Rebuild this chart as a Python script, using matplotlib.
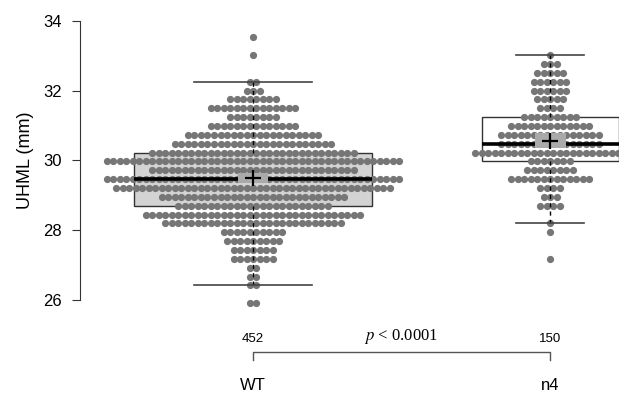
import numpy as np
import matplotlib.pyplot as plt
from matplotlib.patches import Rectangle
from matplotlib import transforms

plt.rcParams['font.family'] = ['Liberation Sans', 'DejaVu Sans']
plt.rcParams['mathtext.fontset'] = 'stix'

# UHML was read in 1/100 inch, plotted in mm -> every level is one row of the swarm
groups = ["WT", "n4"]
wt_levels = [1.02, 1.04, 1.05, 1.06, 1.07, 1.08, 1.09, 1.10, 1.11, 1.12, 1.13, 1.14, 1.15,
             1.16, 1.17, 1.18, 1.19, 1.20, 1.21, 1.22, 1.23, 1.24, 1.25, 1.26, 1.27, 1.30, 1.32]
wt_counts = [2, 2, 2, 2, 7, 7, 9, 10, 28, 34, 24, 29, 43,
             46, 32, 46, 32, 25, 21, 14, 8, 14, 8, 3, 2, 1, 1]
n4_levels = [1.07, 1.10, 1.11, 1.13, 1.14, 1.15, 1.16, 1.17, 1.18, 1.19, 1.20,
             1.21, 1.22, 1.23, 1.24, 1.25, 1.26, 1.27, 1.28, 1.29, 1.30]
n4_counts = [1, 1, 1, 4, 3, 4, 13, 8, 7, 24, 16,
             16, 13, 9, 4, 5, 6, 6, 5, 3, 1]
p_label = "$p$ < 0.0001"

levels = [wt_levels, n4_levels]
counts = [wt_counts, n4_counts]
data = [np.repeat(np.round(np.array(l) * 25.4, 3), c) for l, c in zip(levels, counts)]
sizes = [len(d) for d in data]
positions = [1, 2]

fig = plt.figure(figsize=(6.19, 3.94), dpi=100)
ax = fig.add_axes([80 / 619, 0.2032, 1 - 80 / 619, 0.7613])

# box widths ~ sqrt(n), like R varwidth
widths = [0.8 * np.sqrt(n / max(sizes)) for n in sizes]
# whis a hair over 1.5 so the 1.04" point (right on the fence) stays inside, as in R
bp = ax.boxplot(data, positions=positions, widths=widths, patch_artist=True,
                showfliers=False, whis=1.51,
                boxprops=dict(edgecolor='#333333', linewidth=1.0),
                medianprops=dict(color='black', linewidth=2.6),
                whiskerprops=dict(color='black', linewidth=1.0, linestyle=(0, (3, 3))),
                capprops=dict(color='#444444', linewidth=1.2))
for patch, fc in zip(bp['boxes'], ['#d3d3d3', 'white']):
    patch.set_facecolor(fc)
    patch.set_zorder(1)
for key in ['medians', 'whiskers', 'caps']:
    for ln in bp[key]:
        ln.set_zorder(3)

# simple swarm: rows never touch, so each row is centred around the group
dx = 0.0219
for pos, lv, cn in zip(positions, levels, counts):
    for l, c in zip(lv, cn):
        xs = pos + (np.arange(c) - (c - 1) / 2) * dx
        ax.scatter(xs, np.full(c, l * 25.4), s=27, color='#767676', linewidths=0, zorder=2)

# mean with 99% CI
for pos, d in zip(positions, data):
    m = d.mean()
    ci = 2.576 * d.std(ddof=1) / np.sqrt(len(d))
    ax.add_patch(Rectangle((pos - 0.052, m - ci), 0.104, 2 * ci,
                           facecolor='#aaaaaa', edgecolor='none', zorder=4))
    ax.plot(pos, m, '+', color='black', markersize=11, markeredgewidth=1.6, zorder=5)

ax.set_xlim(0.4175, 2.232)
ax.set_ylim(25.6, 34.2)
ax.set_yticks([26, 28, 30, 32, 34])
ax.set_xticks([])
for s in ['top', 'right', 'bottom']:
    ax.spines[s].set_visible(False)
ax.spines['left'].set_bounds(26, 34)
ax.spines['left'].set_color('#333333')
ax.tick_params(axis='y', length=6, width=0.8, labelsize=12, pad=7, color='#333333')
fig.text(25 / 619, 1 - 160 / 394, "UHML (mm)", rotation=90, ha='center', va='center', fontsize=13)

trans = transforms.blended_transform_factory(ax.transData, fig.transFigure)
for pos, n, g in zip(positions, sizes, groups):
    ax.text(pos, 1 - 339 / 394, str(n), transform=trans, ha='center', va='center', fontsize=9.5)
    ax.text(pos, 1 - 386 / 394, g, transform=trans, ha='center', va='center', fontsize=12)
ax.text(1.5, 1 - 336 / 394, p_label, transform=trans, ha='center', va='center',
        fontsize=12, family='Liberation Serif')
ax.plot([1, 1, 2, 2], [1 - 360 / 394, 1 - 352 / 394, 1 - 352 / 394, 1 - 360 / 394],
        transform=trans, color='#555555', linewidth=1, clip_on=False)

fig.savefig("out.png", dpi=100)
